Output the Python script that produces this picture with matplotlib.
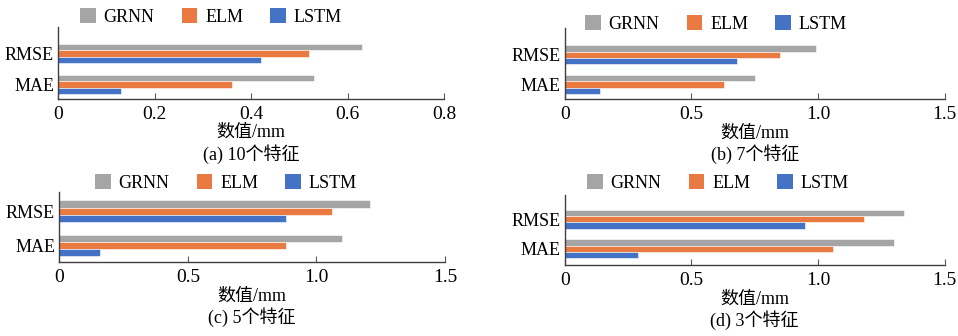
import numpy as np
import matplotlib.pyplot as plt
from matplotlib.patches import Patch

plt.rcParams['font.family'] = ['Liberation Serif', 'Noto Sans CJK SC']
plt.rcParams['font.size'] = 13

# data
metrics = ['MAE', 'RMSE']
models = ['GRNN', 'ELM', 'LSTM']
colors = ['#A5A5A5', '#E97B42', '#4472C4']

grnn_a = [0.53, 0.63]
elm_a = [0.36, 0.52]
lstm_a = [0.13, 0.42]

grnn_b = [0.75, 0.99]
elm_b = [0.63, 0.85]
lstm_b = [0.14, 0.68]

grnn_c = [1.10, 1.21]
elm_c = [0.88, 1.06]
lstm_c = [0.16, 0.88]

grnn_d = [1.30, 1.34]
elm_d = [1.06, 1.18]
lstm_d = [0.29, 0.95]

ticks_a = [0, 0.2, 0.4, 0.6, 0.8]
ticklabels_a = ['0', '0.2', '0.4', '0.6', '0.8']
ticks_bcd = [0, 0.5, 1.0, 1.5]
ticklabels_bcd = ['0', '0.5', '1.0', '1.5']

captions = ['(a) 10个特征', '(b) 7个特征', '(c) 5个特征', '(d) 3个特征']

W, H = 958, 336
fig = plt.figure(figsize=(W / 100, H / 100), dpi=100)


def px_axes(left, top, right, bottom):
    return fig.add_axes([left / W, 1 - bottom / H, (right - left) / W, (bottom - top) / H])


panels = [
    # (box in px, series, ticks, labels, ylim, legend center px)
    ((58.3, 26.7, 444, 98.7), (grnn_a, elm_a, lstm_a), ticks_a, ticklabels_a, (-0.47, 1.88), (211, 17)),
    ((564.7, 28, 944.7, 99), (grnn_b, elm_b, lstm_b), ticks_bcd, ticklabels_bcd, (-0.48, 1.89), (716, 24)),
    ((59.3, 192, 445, 262), (grnn_c, elm_c, lstm_c), ticks_bcd, ticklabels_bcd, (-0.48, 1.56), (226, 183)),
    ((564.7, 194.7, 944.7, 265.3), (grnn_d, elm_d, lstm_d), ticks_bcd, ticklabels_bcd, (-0.56, 1.83), (718, 183)),
]

h = 0.21
y = np.arange(len(metrics))
offsets = [h, 0, -h]

for (box, series, ticks, labels, ylim, leg), cap in zip(panels, captions):
    ax = px_axes(*box)
    for vals, off, col, name in zip(series, offsets, colors, models):
        ax.barh(y + off, vals, height=h, color=col, edgecolor='white', linewidth=0.4, label=name)
    ax.set_xlim(ticks[0], ticks[-1])
    ax.set_ylim(*ylim)
    ax.set_yticks(y)
    ax.set_yticklabels(metrics)
    ax.set_xticks(ticks)
    ax.set_xticklabels(labels)
    ax.tick_params(axis='y', length=0, pad=3)
    ax.tick_params(axis='x', direction='in', length=4, color='#595959', pad=5, labelsize=14)
    for s in ['top', 'right']:
        ax.spines[s].set_visible(False)
    for s in ['left', 'bottom']:
        ax.spines[s].set_color('#404040')
        ax.spines[s].set_linewidth(1.0)
    ax.set_xlabel('数值/mm', labelpad=1)
    cx = (box[0] + box[2]) / 2
    fig.text(cx / W, 1 - (box[3] + 55) / H, cap, ha='center', va='center')
    handles = [Patch(facecolor=c, edgecolor='none') for c in colors]
    fig.legend(handles, models, loc='center', bbox_to_anchor=(leg[0] / W, 1 - leg[1] / H),
               ncol=3, frameon=False, handlelength=0.85, handleheight=0.85,
               columnspacing=1.5, handletextpad=0.45)

fig.savefig('out.png', dpi=100)
